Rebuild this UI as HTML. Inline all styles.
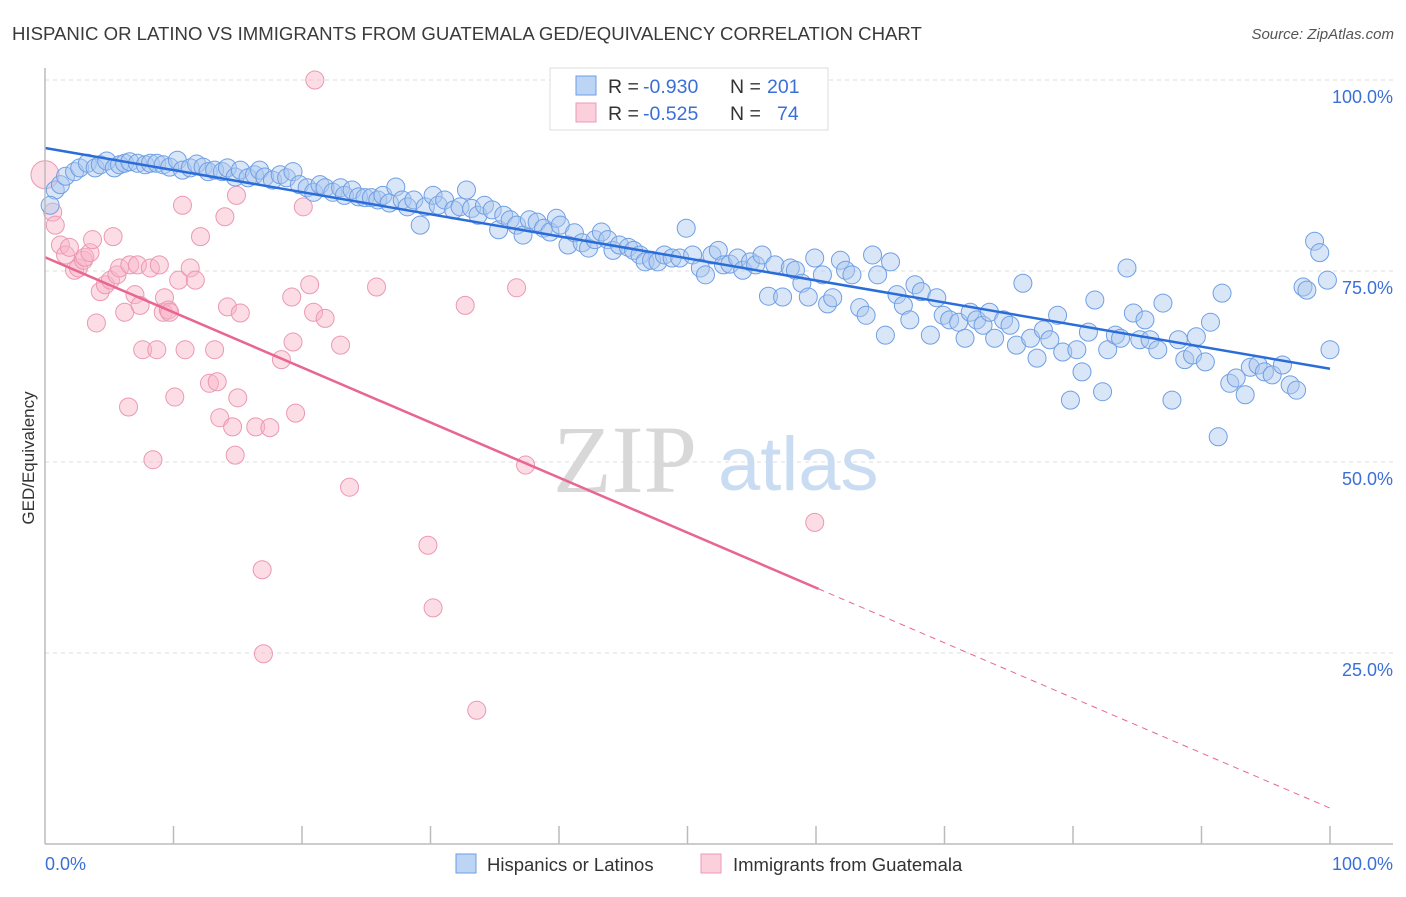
<!DOCTYPE html>
<html><head><meta charset="utf-8"><style>
body{margin:0;background:#fff;font-family:"Liberation Sans",sans-serif}
svg text{font-family:"Liberation Sans",sans-serif}
</style></head><body>
<svg id="chart" width="1406" height="892" xmlns="http://www.w3.org/2000/svg">
<text x="12" y="40" font-size="18.6" fill="#3a3a3a">HISPANIC OR LATINO VS IMMIGRANTS FROM GUATEMALA GED/EQUIVALENCY CORRELATION CHART</text>
<text x="1394" y="39" font-size="15" fill="#555" font-style="italic" text-anchor="end">Source: ZipAtlas.com</text>
<g id="grid"></g>
<g>
<text x="553" y="492" font-size="96" fill="#d8d8d8" style="font-family:'Liberation Serif',serif">ZIP</text>
<text x="718" y="490" font-size="76" fill="#c9dcf2">atlas</text>
</g>
<g id="pts"></g>
<g id="lines"></g>
<line x1="45" y1="68" x2="45" y2="844" stroke="#bbb" stroke-width="1.5"/>
<line x1="45" y1="844" x2="1393" y2="844" stroke="#bbb" stroke-width="1.5"/>
<g id="ticks"></g>
<text transform="translate(34,458) rotate(-90)" font-size="17" fill="#333" text-anchor="middle">GED/Equivalency</text>
<text x="45" y="870" font-size="18" fill="#3b6fd8">0.0%</text>
<text x="1393" y="870" font-size="18" fill="#3b6fd8" text-anchor="end">100.0%</text>
<g>
<rect x="550" y="68" width="278" height="62" fill="#fff" stroke="#ddd"/>
<rect x="576" y="76" width="20" height="19" fill="#bcd5f5" stroke="#6b9de6"/>
<rect x="576" y="103" width="20" height="19" fill="#fbd0dc" stroke="#ec9ab4"/>
<text x="608" y="93" font-size="19.5" fill="#333">R =</text>
<text x="643" y="93" font-size="19.5" fill="#3b6fd8">-0.930</text>
<text x="730" y="93" font-size="19.5" fill="#333">N =</text>
<text x="767" y="93" font-size="19.5" fill="#3b6fd8">201</text>
<text x="608" y="120" font-size="19.5" fill="#333">R =</text>
<text x="643" y="120" font-size="19.5" fill="#3b6fd8">-0.525</text>
<text x="730" y="120" font-size="19.5" fill="#333">N =</text>
<text x="777" y="120" font-size="19.5" fill="#3b6fd8">74</text>
</g>
<g><rect x="456" y="854" width="20" height="19" fill="#bcd5f5" stroke="#6b9de6"/><text x="487" y="871" font-size="18.5" fill="#333">Hispanics or Latinos</text></g>
<g><rect x="701" y="854" width="20" height="19" fill="#fbd0dc" stroke="#ec9ab4"/><text x="733" y="871" font-size="18.5" fill="#333">Immigrants from Guatemala</text></g>
</svg>
<script>
const yTicks=[25,50,75,100];
const yTickLabels=["25.0%","50.0%","75.0%","100.0%"];
const xTicks=[10,20,30,40,50,60,70,80,90,100];
const blueX=[0.8,1.2,1.6,2.3,2.7,3.3,3.9,4.3,4.8,5.4,5.8,6.2,6.6,7.2,7.8,8.2,8.7,9.2,9.7,10.3,10.7,11.3,11.8,12.3,12.7,13.2,13.8,14.2,14.8,15.2,15.8,16.3,16.7,17.1,17.7,18.3,18.8,19.3,19.8,20.4,20.9,21.4,21.8,22.4,23.0,23.3,23.9,24.4,24.9,25.4,25.9,26.3,26.8,27.3,27.8,28.2,28.7,29.2,29.6,30.2,30.6,31.1,31.8,32.3,32.8,33.2,33.7,34.2,34.8,35.3,35.7,36.2,36.7,37.2,37.7,38.3,38.8,39.3,39.8,40.1,40.7,41.2,41.8,42.3,42.8,43.3,43.8,44.2,44.7,45.4,45.8,46.3,46.7,47.2,47.7,48.2,48.8,49.4,49.9,50.4,51.0,51.4,51.9,52.4,52.8,53.3,53.9,54.3,54.9,55.3,55.8,56.3,56.8,57.4,58.0,58.4,58.9,59.4,59.9,60.5,60.9,61.3,61.9,62.3,62.8,63.4,63.9,64.4,64.8,65.4,65.8,66.3,66.8,67.3,67.7,68.2,68.9,69.4,69.9,70.4,71.1,71.6,72.0,72.5,73.0,73.5,73.9,74.6,75.1,75.6,76.1,76.7,77.2,77.7,78.2,78.8,79.2,79.8,80.3,80.7,81.2,81.7,82.3,82.7,83.3,83.7,84.2,84.7,85.2,85.6,86.0,86.6,87.0,87.7,88.2,88.7,89.3,89.6,90.3,90.7,91.3,91.6,92.2,92.7,93.4,93.8,94.4,94.9,95.5,96.3,96.9,97.4,97.9,98.2,98.8,99.2,99.8,100,0.4];
const blueY=[85.6,86.3,87.4,88.0,88.5,89.1,88.5,88.9,89.4,88.5,88.9,89.1,89.3,89.1,88.9,89.1,89.1,88.9,88.6,89.5,88.2,88.5,89.0,88.6,88.0,88.2,88.0,88.5,87.3,88.2,87.2,87.6,88.2,87.3,86.9,87.6,87.2,88.0,86.3,85.9,85.3,86.3,85.9,85.3,85.9,84.9,85.6,84.7,84.6,84.6,84.3,84.9,83.9,86.0,84.3,83.4,84.3,81.0,83.4,84.9,83.6,84.3,83.0,83.4,85.6,83.2,82.3,83.6,83.0,80.4,82.3,81.7,81.0,79.7,81.7,81.4,80.6,80.1,81.9,81.0,78.4,80.0,78.7,78.0,79.1,80.1,79.1,77.7,78.4,78.1,77.7,77.1,76.2,76.4,76.2,77.1,76.7,76.7,80.6,77.1,75.4,74.5,77.1,77.7,75.8,75.9,76.7,75.1,76.2,75.8,77.1,71.7,75.8,71.6,75.4,75.1,73.4,71.6,76.7,74.5,70.7,71.5,76.4,75.1,74.5,70.2,69.2,77.1,74.5,66.6,76.2,71.9,70.5,68.6,73.2,72.3,66.6,71.5,69.2,68.6,68.3,66.2,69.6,68.6,67.9,69.6,66.2,68.6,67.9,65.3,73.4,66.2,63.6,67.3,66.0,69.2,64.4,58.1,64.7,61.8,67.0,71.2,59.2,64.7,66.6,66.2,75.4,69.5,66.0,68.6,66.0,64.7,70.8,58.1,66.0,63.4,64.0,66.4,63.1,68.3,53.3,72.1,60.3,61.0,58.8,62.4,62.7,61.8,61.4,62.7,60.1,59.4,72.9,72.5,78.9,77.4,73.8,64.7,83.6];
const pinkX=[0,0.6,0.8,1.2,1.6,1.9,2.3,2.6,3.0,3.1,3.5,3.7,4.0,4.3,4.7,5.1,5.3,5.6,5.8,6.2,6.5,6.6,7.0,7.2,7.4,7.6,8.2,8.4,8.7,8.9,9.2,9.3,9.6,9.7,10.1,10.4,10.7,10.9,11.3,11.7,12.1,12.8,13.2,13.4,13.6,14.0,14.2,14.6,14.8,14.9,15.0,15.2,16.4,16.9,17.0,17.5,18.4,19.2,19.3,19.5,20.1,20.6,21.0,20.9,21.8,23.0,23.7,25.8,29.8,30.2,32.7,33.6,36.7,37.4,59.9];
const pinkY=[87.6,82.7,81.0,78.4,77.1,78.1,75.1,75.4,76.4,76.8,77.4,79.1,68.2,72.3,73.2,73.8,79.5,74.5,75.4,69.6,57.2,75.8,71.9,75.8,70.5,64.7,75.4,50.3,64.7,75.8,69.6,71.5,69.9,69.6,58.5,73.8,83.6,64.7,75.4,73.8,79.5,60.3,64.7,60.5,55.8,82.1,70.3,54.6,50.9,84.9,58.4,69.5,54.6,35.9,24.9,54.5,63.4,71.6,65.7,56.4,83.4,73.2,100,69.6,68.8,65.3,46.7,72.9,39.1,30.9,70.5,17.5,72.8,49.6,42.1];
const blueTrend=[91.1,62.2];
const pinkTrend=[76.8,4.7];
const pinkSolidEnd=[60.2];
const X=v=>45+v*12.85, Y=v=>844-v*7.64;
const NS="http://www.w3.org/2000/svg";
function mk(tag,attrs,parent){const e=document.createElementNS(NS,tag);for(const k in attrs)e.setAttribute(k,attrs[k]);parent.appendChild(e);return e;}
const grid=document.getElementById('grid'),ticks=document.getElementById('ticks'),pts=document.getElementById('pts'),lines=document.getElementById('lines');
yTicks.forEach((t,i)=>{
 const l=mk('line',{x1:45,x2:1393,y1:Y(t),y2:Y(t),stroke:'#dcdcdc','stroke-dasharray':'4,4'},grid);
 
 
 const tx=mk('text',{x:1393,y:Y(t)+23,'font-size':18,fill:'#3b6fd8','text-anchor':'end'},ticks);
 tx.textContent=yTickLabels[i];
 
 
});
xTicks.forEach(t=>{
 const l=mk('line',{x1:X(t),x2:X(t),y1:826,y2:844,stroke:'#bbb','stroke-width':1.5},ticks);
 
 
});
pinkX.forEach((v,i)=>{
 const c=mk('circle',{cx:X(v),cy:Y(pinkY[i]),r:i===0?14:9,fill:'rgba(248,180,200,0.45)',stroke:'#eb98b3','stroke-width':1},pts);
 
 
});
blueX.forEach((v,i)=>{
 const c=mk('circle',{cx:X(v),cy:Y(blueY[i]),r:9,fill:'rgba(170,200,240,0.45)',stroke:'#6f9fe4','stroke-width':1},pts);
 
 
});
const bl=mk('line',{x1:X(0),y1:Y(blueTrend[0]),x2:X(100),y2:Y(blueTrend[1]),stroke:'#2a6dd9','stroke-width':2.5},lines);


const pAt=x=>pinkTrend[0]+(pinkTrend[1]-pinkTrend[0])*x/100;
const pl=mk('line',{x1:X(0),y1:Y(pinkTrend[0]),x2:X(pinkSolidEnd[0]),y2:Y(pAt(pinkSolidEnd[0])),stroke:'#e8668f','stroke-width':2.5},lines);


const pd=mk('line',{x1:X(pinkSolidEnd[0]),y1:Y(pAt(pinkSolidEnd[0])),x2:X(100),y2:Y(pinkTrend[1]),stroke:'#e8668f','stroke-width':1,'stroke-dasharray':'6,5'},lines);


</script>
</body></html>
